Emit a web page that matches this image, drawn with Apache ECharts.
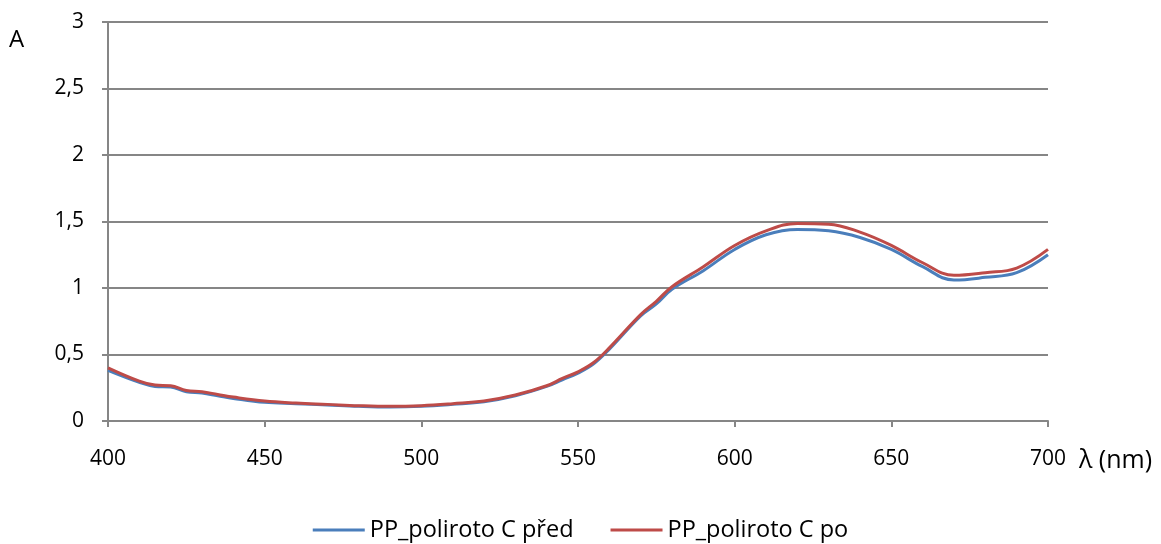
<!DOCTYPE html>
<html>
<head>
<meta charset="utf-8" />
<script src="https://cdn.jsdelivr.net/npm/echarts@6/dist/echarts.min.js"></script>
<title>PP_poliroto C</title>
<style>
  html, body { margin: 0; padding: 0; background: #fff; }
  #main { width: 1161px; height: 544px; }
</style>
</head>
<body>
<div id="main"></div>
<script type="text/javascript">
// vlnová délka (nm)
var wavelengths = [400, 410, 415, 420, 425, 430, 435, 440, 450, 460, 470, 480, 490, 500, 510, 520, 530, 540, 545, 550, 555, 560, 570, 575, 580, 590, 600, 610, 620, 630, 640, 650, 660, 670, 680, 690, 700];
var predValues = [0.38, 0.29, 0.26, 0.255, 0.22, 0.21, 0.19, 0.17, 0.14, 0.13, 0.12, 0.11, 0.105, 0.11, 0.125, 0.145, 0.19, 0.26, 0.31, 0.36, 0.43, 0.54, 0.79, 0.88, 0.99, 1.13, 1.29, 1.40, 1.44, 1.43, 1.38, 1.29, 1.16, 1.06, 1.08, 1.115, 1.25];
var poValues = [0.40, 0.30, 0.27, 0.265, 0.23, 0.22, 0.2, 0.18, 0.15, 0.135, 0.125, 0.115, 0.11, 0.115, 0.13, 0.15, 0.195, 0.265, 0.32, 0.37, 0.44, 0.55, 0.80, 0.90, 1.01, 1.16, 1.32, 1.43, 1.485, 1.48, 1.42, 1.32, 1.19, 1.095, 1.115, 1.15, 1.29];
var yTicks = [0, 0.5, 1, 1.5, 2, 2.5, 3];

function pairs(xs, ys) {
    return xs.map(function (x, i) { return [x, ys[i]]; });
}

var myChart = echarts.init(document.getElementById('main'));
var gray = '#868686';
var font = '"Open Sans", "Noto Sans", sans-serif';
var option = {
    animation: false,
    textStyle: { fontFamily: font },
    graphic: [{
        type: 'text',
        left: 9,
        top: 28,
        style: { text: 'A', fontSize: 24, fill: '#000', fontFamily: font }
    }],
    legend: {
        top: 513,
        left: 'center',
        itemGap: 37,
        itemWidth: 52,
        itemHeight: 3,
        icon: 'rect',
        textStyle: { fontSize: 23.5, color: '#000', fontFamily: font, padding: [0, 0, 0, 0] },
        data: ['PP_poliroto C před', 'PP_poliroto C po']
    },
    grid: {
        left: 108,
        right: 113,
        top: 22,
        bottom: 123,
        containLabel: false
    },
    xAxis: {
        type: 'value',
        min: 400,
        max: 700,
        interval: 50,
        name: 'λ (nm)',
        nameLocation: 'end',
        nameGap: 31,
        nameTextStyle: { fontSize: 25, color: '#000', fontFamily: font, align: 'left', verticalAlign: 'top', padding: [27, 0, 0, 0] },
        axisLine: { lineStyle: { color: gray, width: 2 } },
        axisTick: { show: true, length: 6, lineStyle: { color: gray, width: 2 } },
        axisLabel: { fontSize: 21, color: '#000', margin: 28 },
        splitLine: { show: false }
    },
    yAxis: {
        type: 'value',
        min: 0,
        max: 3,
        interval: 0.5,
        axisLine: { show: true, lineStyle: { color: gray, width: 2 } },
        axisTick: { show: true, length: 6, lineStyle: { color: gray, width: 2 } },
        axisLabel: {
            fontSize: 21,
            color: '#000',
            margin: 24,
            formatter: function (v) { return String(v).replace('.', ','); }
        },
        splitLine: { show: true, lineStyle: { color: gray, width: 2 } }
    },
    series: [{
        name: 'PP_poliroto C před',
        type: 'line',
        smooth: 0.4,
        symbol: 'none',
        lineStyle: { color: '#4a7ebb', width: 3 },
        itemStyle: { color: '#4a7ebb' },
        data: pairs(wavelengths, predValues)
    }, {
        name: 'PP_poliroto C po',
        type: 'line',
        smooth: 0.4,
        symbol: 'none',
        lineStyle: { color: '#be4b48', width: 3 },
        itemStyle: { color: '#be4b48' },
        data: pairs(wavelengths, poValues)
    }]
};
myChart.setOption(option);
</script>
</body>
</html>
